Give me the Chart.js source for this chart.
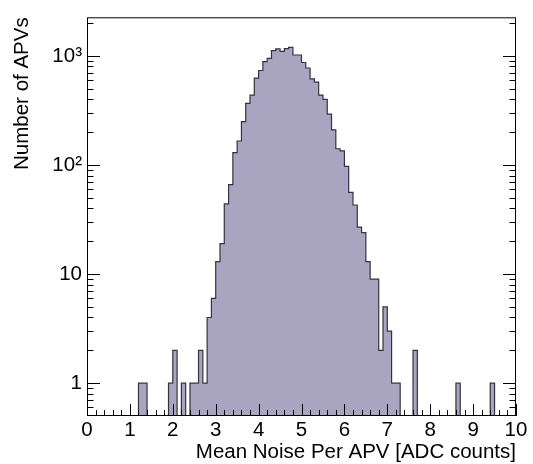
<!DOCTYPE html>
<html>
<head>
<meta charset="utf-8">
<script src="https://cdn.jsdelivr.net/npm/chart.js@4"></script>
<style>
  html, body { margin: 0; padding: 0; background: #fff; }
  canvas { display: block; }
</style>
</head>
<body>
<canvas id="noiseChart" width="533" height="464"></canvas>
<script>
// histogram bins of 0.1 ADC counts, 0.0 .. 10.0
const binWidth = 0.1;
const counts = [
  0, 0, 0, 0, 0, 0, 0, 0, 0, 0,                            // 0.x
  0, 0, 1, 1, 0, 0, 0, 0, 0, 1,                            // 1.x
  2, 0, 1, 0, 1, 1, 2, 1, 4, 6,                            // 2.x
  13, 19, 44, 66, 130, 166, 250, 368, 438, 626,            // 3.x
  735, 885, 948, 1120, 1160, 1100, 1166, 1197, 1020, 1020, // 4.x
  870, 775, 617, 576, 438, 400, 293, 210, 141, 135,        // 5.x
  97, 56, 43, 27, 24, 13, 9, 9, 2, 5,                      // 6.x
  3, 1, 1, 0, 0, 0, 2, 0, 0, 0,                            // 7.x
  0, 0, 0, 0, 0, 0, 1, 0, 0, 0,                            // 8.x
  0, 0, 0, 0, 1, 0, 0, 0, 0, 0                             // 9.x
];
const yTickValues = [1, 10, 100, 1000];
const yTickLabels = ['1', '10', '10²', '10³'];
const xTitle = 'Mean Noise Per APV [ADC counts]';
const yTitle = 'Number of APVs';
const yMin = 0.5;
const yMax = 2260;

// empty bins sit on the axis floor, like ROOT does on a log pad
const points = counts.map((c, i) => ({ x: i * binWidth, y: c > 0 ? c : yMin }));
points.push({ x: counts.length * binWidth, y: yMin });

const font = { family: "'Liberation Sans', Arial, sans-serif", size: 20.5 };
const titleFont = { family: "'Liberation Sans', Arial, sans-serif", size: 20.5, lineHeight: 1 };

// inside ticks + frame, ROOT style
const rootFrame = {
  id: 'rootFrame',
  afterDatasetsDraw(chart) {
    const { ctx, chartArea: a, scales: { x, y } } = chart;
    ctx.save();
    ctx.strokeStyle = '#000';
    ctx.lineWidth = 1;
    ctx.beginPath();
    for (let i = 0; i <= 50; i++) {
      const px = Math.round(x.getPixelForValue(i * 0.2)) + 0.5;
      const len = i % 5 === 0 ? 12 : 6;
      ctx.moveTo(px, a.bottom);
      ctx.lineTo(px, a.bottom - len);
    }
    for (let e = -1; e <= 3; e++) {
      for (let k = 1; k <= 9; k++) {
        const v = k * Math.pow(10, e);
        if (v <= yMin || v >= yMax) continue;
        const py = Math.round(y.getPixelForValue(v)) + 0.5;
        const len = k === 1 ? 13 : 6.5;
        ctx.moveTo(a.left, py);
        ctx.lineTo(a.left + len, py);
        ctx.moveTo(a.right, py);
        ctx.lineTo(a.right - len, py);
      }
    }
    ctx.stroke();
    ctx.strokeRect(a.left + 0.5, a.top + 0.5, a.right - a.left - 1, a.bottom - a.top - 1);
    ctx.restore();
  }
};

new Chart(document.getElementById('noiseChart'), {
  type: 'line',
  data: {
    datasets: [{
      data: points,
      stepped: true,
      fill: 'start',
      backgroundColor: '#a9a5c1',
      borderColor: '#33333f',
      borderWidth: 1.2,
      pointRadius: 0
    }]
  },
  options: {
    responsive: false,
    animation: false,
    devicePixelRatio: 1,
    layout: { padding: { left: 0, right: 17, top: 9, bottom: 0 } },
    plugins: { legend: { display: false }, tooltip: { enabled: false } },
    scales: {
      x: {
        type: 'linear',
        min: 0,
        max: 10,
        grid: { display: false, drawTicks: false },
        border: { display: false },
        ticks: { stepSize: 1, color: '#000', font: font, padding: 2, maxRotation: 0, autoSkip: false },
        title: { display: true, text: xTitle, align: 'end', color: '#000', font: titleFont, padding: { top: 0, bottom: 1 } },
        afterFit(s) { s.height = 48; }
      },
      y: {
        type: 'logarithmic',
        min: yMin,
        max: yMax,
        grid: { display: false, drawTicks: false },
        border: { display: false },
        afterBuildTicks(s) { s.ticks = yTickValues.map(v => ({ value: v })); },
        ticks: {
          color: '#000',
          font: font,
          padding: 5,
          callback: v => {
            const i = yTickValues.indexOf(v);
            return i >= 0 ? yTickLabels[i] : '';
          }
        },
        title: { display: true, text: yTitle, align: 'end', color: '#000', font: titleFont, padding: { top: 12.5, bottom: 0 } },
        afterFit(s) { s.width = 87; }
      }
    }
  },
  plugins: [rootFrame]
});
</script>
</body>
</html>
